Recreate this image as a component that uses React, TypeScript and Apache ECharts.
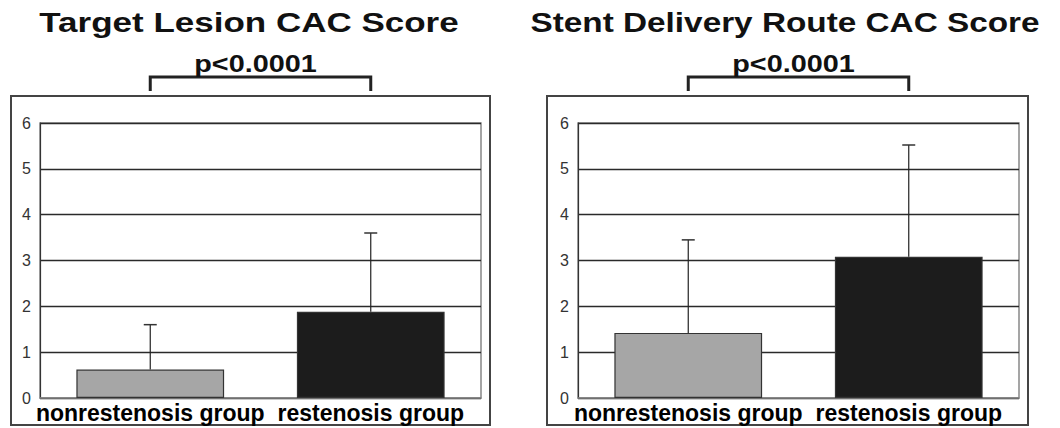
import React, { useEffect, useRef } from "react";
import * as echarts from "echarts";

const categories = ["nonrestenosis group", "restenosis group"];
const targetMeans = [0.62, 1.88];
const targetUpper = [1.6, 3.6];
const routeMeans = [1.42, 3.08];
const routeUpper = [3.45, 5.52];
const barColors = ["#a6a6a6", "#1c1c1c"];
const titles = ["Target Lesion CAC Score", "Stent Delivery Route CAC Score"];
const pLabels = ["p<0.0001", "p<0.0001"];

const FONT = "'Liberation Sans', Arial, sans-serif";

function errorSeries(gridIdx: number, upper: number[], means: number[]) {
  return {
    type: "custom",
    xAxisIndex: gridIdx,
    yAxisIndex: gridIdx,
    z: 5,
    data: categories.map((c, i) => [i, means[i], upper[i]]),
    renderItem: (params: any, api: any) => {
      const i = api.value(0);
      const lo = api.coord([i, api.value(1)]);
      const hi = api.coord([i, api.value(2)]);
      const half = 6.5;
      return {
        type: "group",
        children: [
          {
            type: "line",
            shape: { x1: lo[0], y1: lo[1], x2: hi[0], y2: hi[1] },
            style: { stroke: "#222", lineWidth: 1.2 },
          },
          {
            type: "line",
            shape: { x1: hi[0] - half, y1: hi[1], x2: hi[0] + half, y2: hi[1] },
            style: { stroke: "#333", lineWidth: 1.5 },
          },
        ],
      };
    },
  };
}

export default function App() {
  const ref = useRef<HTMLDivElement>(null);
  useEffect(() => {
    if (!ref.current) return;
    const chart = echarts.init(ref.current, null, { renderer: "svg" });
    const grids = [
      { left: 40, right: 579, top: 123, bottom: 30 },
      { left: 578, right: 41, top: 123, bottom: 30 },
    ];
    const xAxes = grids.map((g, i) => ({
      type: "category",
      gridIndex: i,
      data: categories,
      axisTick: { show: false },
      axisLine: { lineStyle: { color: "#888", width: 1.5 } },
      axisLabel: {
        color: "#000",
        fontFamily: FONT,
        fontWeight: "bold",
        fontSize: 23,
        margin: 3,
        interval: 0,
      },
    }));
    const yAxes = grids.map((g, i) => ({
      type: "value",
      gridIndex: i,
      min: 0,
      max: 6,
      interval: 1,
      axisLine: { show: true, lineStyle: { color: "#333", width: 1.2 } },
      axisTick: { show: false },
      splitLine: { lineStyle: { color: "#2a2a2a", width: 1.3 } },
      axisLabel: { color: "#333", fontFamily: FONT, fontSize: 16, margin: 9 },
    }));
    const barSeries = (gridIdx: number, means: number[]) => ({
      type: "bar",
      xAxisIndex: gridIdx,
      yAxisIndex: gridIdx,
      barWidth: "67%",
      z: 3,
      data: means.map((v, i) => ({
        value: v,
        itemStyle: { color: barColors[i], borderColor: "#333", borderWidth: 1.2 },
      })),
    });
    chart.setOption({
      animation: false,
      backgroundColor: "#fff",
      grid: grids.map((g) => ({ ...g, show: true, borderColor: "#888", borderWidth: 1.5 })),
      xAxis: xAxes,
      yAxis: yAxes,
      series: [
        barSeries(0, targetMeans),
        barSeries(1, routeMeans),
        errorSeries(0, targetUpper, targetMeans),
        errorSeries(1, routeUpper, routeMeans),
      ],
    });

    const graphics: any[] = [];
    const boxes = [
      { x: 11, w: 479 },
      { x: 547, w: 481 },
    ];
    const titleX = [249, 785];
    const titleScale = [1.25, 1.19];
    for (let g = 0; g < 2; g++) {
      graphics.push({
        type: "rect",
        shape: { x: boxes[g].x, y: 96, width: boxes[g].w, height: 329 },
        style: { fill: "none", stroke: "#444", lineWidth: 2 },
        silent: true,
        z: 0,
      });
      graphics.push({
        type: "text",
        x: titleX[g],
        y: 22,
        scaleX: titleScale[g],
        style: {
          text: titles[g],
          fontFamily: FONT,
          fontWeight: "bold",
          fontSize: 28,
          fill: "#111",
          textAlign: "center",
          textVerticalAlign: "middle",
        },
      });
      const p1 = chart.convertToPixel({ xAxisIndex: g, yAxisIndex: g } as any, [categories[0], 0]) as number[];
      const p2 = chart.convertToPixel({ xAxisIndex: g, yAxisIndex: g } as any, [categories[1], 0]) as number[];
      const x1 = p1[0];
      const x2 = p2[0];
      graphics.push({
        type: "polyline",
        shape: { points: [[x1, 91], [x1, 77], [x2, 77], [x2, 91]] },
        style: { stroke: "#222", lineWidth: 3, fill: "none" },
      });
      graphics.push({
        type: "text",
        x: (x1 + x2) / 2 - 5,
        y: 64,
        scaleX: 1.2,
        style: {
          text: pLabels[g],
          fontFamily: FONT,
          fontWeight: "bold",
          fontSize: 24,
          fill: "#111",
          textAlign: "center",
          textVerticalAlign: "middle",
        },
      });
    }
    chart.setOption({ graphic: graphics });
    return () => chart.dispose();
  }, []);
  return (
    <div
      ref={ref}
      style={{ position: "fixed", left: 0, top: 0, width: 1060, height: 428 }}
    />
  );
}
